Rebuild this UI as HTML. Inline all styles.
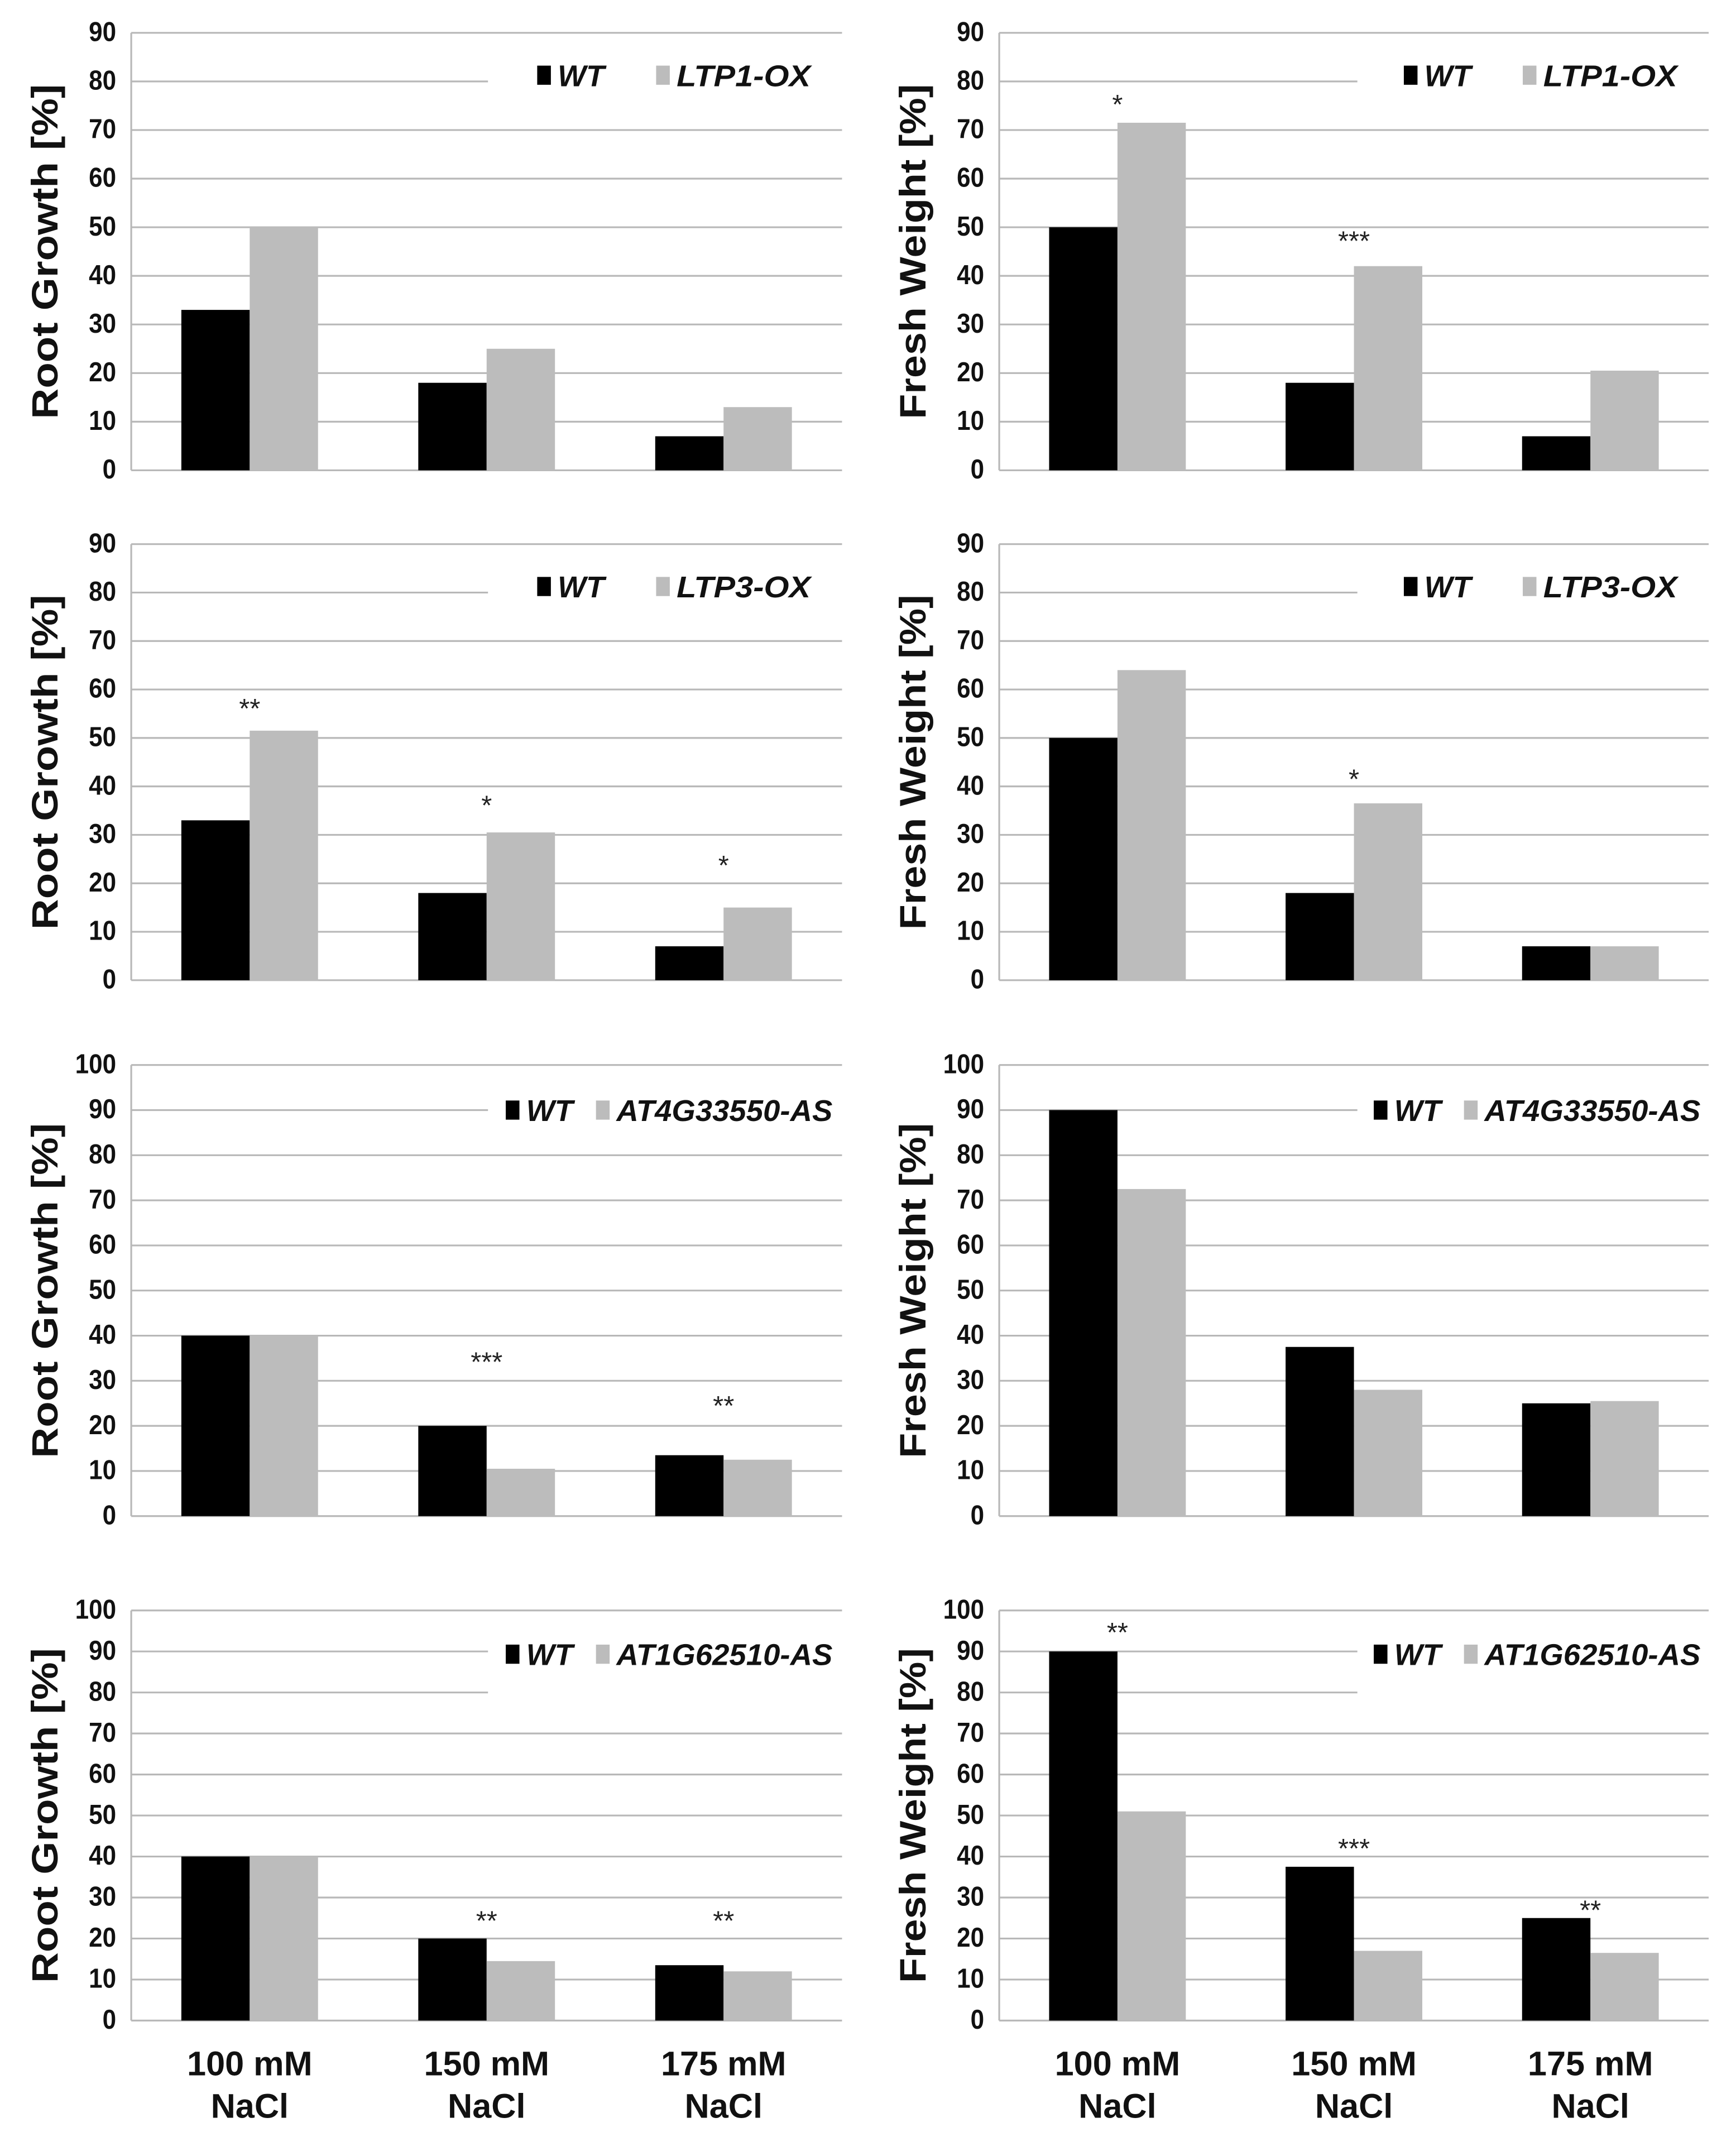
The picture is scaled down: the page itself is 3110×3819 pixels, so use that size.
<!DOCTYPE html>
<html><head><meta charset="utf-8"><style>
html,body{margin:0;padding:0;background:#fff;}
svg{display:block;font-family:"Liberation Sans",Arial,sans-serif;}
</style></head><body>
<svg id="chart" width="3110" height="3819" viewBox="0 0 1270 1559.5" xmlns="http://www.w3.org/2000/svg"></svg>
<script>
// ---- data ----
const categories = [["100 mM","NaCl"],["150 mM","NaCl"],["175 mM","NaCl"]];
const p1WT = [33, 18, 7];      const p1Line = [50, 25, 13];
const p2WT = [50, 18, 7];      const p2Line = [71.5, 42, 20.5];
const p3WT = [33, 18, 7];      const p3Line = [51.5, 30.5, 15];
const p4WT = [50, 18, 7];      const p4Line = [64, 36.5, 7];
const p5WT = [40, 20, 13.5];   const p5Line = [40, 10.5, 12.5];
const p6WT = [90, 37.5, 25];   const p6Line = [72.5, 28, 25.5];
const p7WT = [40, 20, 13.5];   const p7Line = [40, 14.5, 12];
const p8WT = [90, 37.5, 25];   const p8Line = [51, 17, 16.5];
const p1Stars = ["", "", ""];        const p1StarPos = [0, 0, 0];
const p2Stars = ["*", "***", ""];    const p2StarPos = [75.6, 47.5, 0];
const p3Stars = ["**", "*", "*"];    const p3StarPos = [56.4, 36.4, 24];
const p4Stars = ["", "*", ""];       const p4StarPos = [0, 41.8, 0];
const p5Stars = ["", "***", "**"];   const p5StarPos = [0, 34.5, 24.8];
const p6Stars = ["", "", ""];        const p6StarPos = [0, 0, 0];
const p7Stars = ["", "**", "**"];    const p7StarPos = [0, 24.7, 24.7];
const p8Stars = ["**", "***", "**"]; const p8StarPos = [95, 42.3, 27.3];
const ticks90 = [0,10,20,30,40,50,60,70,80,90];
const ticks100 = [0,10,20,30,40,50,60,70,80,90,100];
const lineNames = ["LTP1-OX","LTP1-OX","LTP3-OX","LTP3-OX","AT4G33550-AS","AT4G33550-AS","AT1G62510-AS","AT1G62510-AS"];
const yTitles = ["Root Growth  [%]","Fresh Weight  [%]","Root Growth  [%]","Fresh Weight  [%]","Root Growth [%]","Fresh Weight [%]","Root Growth [%]","Fresh Weight [%]"];

const NS = "http://www.w3.org/2000/svg";
const svg = document.getElementById("chart");
function mk(tag, attrs, parent){ const e=document.createElementNS(NS,tag); for(const k in attrs) e.setAttribute(k,attrs[k]); (parent||svg).appendChild(e); return e; }

const panels = [
 {wt:p1WT, ln:p1Line, st:p1Stars, sp:p1StarPos, ticks:ticks90, x0:96, x1:616, y0:344, yT:24, lx:393, ly:55, box:[357,50,280,18]},
 {wt:p2WT, ln:p2Line, st:p2Stars, sp:p2StarPos, ticks:ticks90, x0:731, x1:1250, y0:344, yT:24, lx:1027, ly:55, box:[993,50,280,18]},
 {wt:p3WT, ln:p3Line, st:p3Stars, sp:p3StarPos, ticks:ticks90, x0:96, x1:616, y0:717, yT:398, lx:393, ly:429, box:[357,424,280,18]},
 {wt:p4WT, ln:p4Line, st:p4Stars, sp:p4StarPos, ticks:ticks90, x0:731, x1:1250, y0:717, yT:398, lx:1027, ly:429, box:[993,424,280,18]},
 {wt:p5WT, ln:p5Line, st:p5Stars, sp:p5StarPos, ticks:ticks100, x0:96, x1:616, y0:1109, yT:779, lx:370, ly:812, box:[357,800,280,20]},
 {wt:p6WT, ln:p6Line, st:p6Stars, sp:p6StarPos, ticks:ticks100, x0:731, x1:1250, y0:1109, yT:779, lx:1005, ly:812, box:[993,800,280,20]},
 {wt:p7WT, ln:p7Line, st:p7Stars, sp:p7StarPos, ticks:ticks100, x0:96, x1:616, y0:1478, yT:1178, lx:370, ly:1210, box:[357,1198,280,45]},
 {wt:p8WT, ln:p8Line, st:p8Stars, sp:p8StarPos, ticks:ticks100, x0:731, x1:1250, y0:1478, yT:1178, lx:1005, ly:1210, box:[993,1198,280,45]}
];

panels.forEach((p, pi) => {
  const g = mk("g", {});
  
  
  const maxV = p.ticks[p.ticks.length-1];
  const y = v => p.y0 - (v/maxV)*(p.y0 - p.yT);
  const cw = (p.x1 - p.x0)/3;
  const xc = i => p.x0 + (i+0.5)*cw;
  p.ticks.forEach(t => {
    const l = mk("line", {x1:p.x0, x2:p.x1, y1:y(t), y2:y(t), stroke:"#b8b8b8", "stroke-width":1.3}, g);
    
    
    const s = String(t);
    const tx = mk("text", {x:p.x0-11, y:y(t)+6, "text-anchor":"end", "font-size":20, "font-weight":"bold", fill:"#111", textLength:s.length*10, lengthAdjust:"spacingAndGlyphs"}, g);
    tx.textContent = s;
    
    
  });
  const ax = mk("line", {x1:p.x0, x2:p.x0, y1:p.yT, y2:p.y0, stroke:"#b8b8b8", "stroke-width":1.3}, g);
  
  
  const bx = mk("rect", {x:p.box[0], y:p.box[1], width:p.x1-p.box[0]+2, height:p.box[3], fill:"#fff"}, g);
  
  
  for (let i=0;i<3;i++){
    const b1 = mk("rect", {x:xc(i)-50, y:y(p.wt[i]), width:50, height:p.y0-y(p.wt[i]), fill:"#000"}, g);
    
    
    const b2 = mk("rect", {x:xc(i), y:y(p.ln[i]), width:50, height:p.y0-y(p.ln[i]), fill:"#bcbcbc"}, g);
    
    
    if (p.st[i]) {
      const s = mk("text", {x:xc(i), y:y(p.sp[i])+8, "text-anchor":"middle", "font-size":20, fill:"#222"}, g);
      s.textContent = p.st[i];
      
      
    }
  }
  const tcx = pi%2===0 ? 35 : 670;
  const tcy = (p.y0 + p.yT)/2;
  const yt = mk("text", {x:tcx, y:tcy, transform:`rotate(-90 ${tcx} ${tcy})`, "text-anchor":"middle", "dominant-baseline":"middle", "font-size":27, "font-weight":"bold", fill:"#111", textLength:245, lengthAdjust:"spacingAndGlyphs"}, g);
  yt.textContent = yTitles[pi];
  
  
  const wide = lineNames[pi].length > 8;
  const s1 = mk("rect", {x:p.lx, y:p.ly-7, width:10, height:14, fill:"#000"}, g);
  
  
  const t1 = mk("text", {x:p.lx+15, y:p.ly+8, "font-size":22, "font-weight":"bold", "font-style":"italic", fill:"#111"}, g);
  t1.textContent = "WT";
  
  
  const gx = wide ? p.lx + 66 : p.lx + 87;
  const s2 = mk("rect", {x:gx, y:p.ly-7, width:10, height:14, fill:"#bcbcbc"}, g);
  
  
  const t2 = mk("text", {x:gx+15, y:p.ly+8, "font-size":22, "font-weight":"bold", "font-style":"italic", fill:"#111", textLength: wide ? 158 : 98, lengthAdjust:"spacingAndGlyphs"}, g);
  t2.textContent = lineNames[pi];
  
  
  if (pi >= 6) {
    for (let i=0;i<3;i++){
      categories[i].forEach((ln, k) => {
        const c = mk("text", {x:xc(i), y:1518 + k*31, "text-anchor":"middle", "font-size":25, "font-weight":"bold", fill:"#111"}, g);
        c.textContent = ln;
        
        
      });
    }
  }
});
</script>
</body></html>
